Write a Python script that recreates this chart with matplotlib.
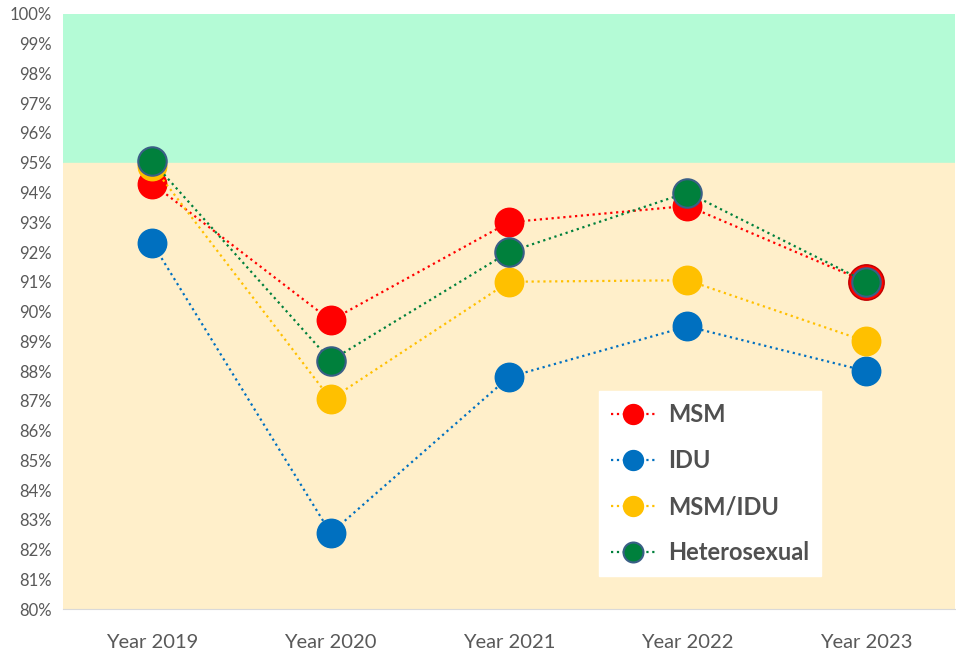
import matplotlib.pyplot as plt
from matplotlib.ticker import PercentFormatter

# Datos
years = ["Year 2019", "Year 2020", "Year 2021", "Year 2022", "Year 2023"]
msm = [94.3, 89.7, 93.0, 93.55, 91.0]
idu = [92.3, 82.55, 87.8, 89.5, 88.0]
msm_idu = [94.9, 87.05, 91.0, 91.05, 89.0]
hetero = [95.05, 88.35, 92.0, 94.0, 91.0]

target = 95
y_min, y_max = 80, 100

plt.rcParams['font.family'] = ['Lato', 'DejaVu Sans']

fig = plt.figure(figsize=(9.56, 6.51), dpi=100)
ax = fig.add_axes([0.066, 0.0645, 0.933, 0.914])

# Bandas de fondo
ax.axhspan(target, y_max, color='#B4FBD6', zorder=0)
ax.axhspan(y_min, target, color='#FFEFCA', zorder=0)

x = list(range(len(years)))
ms = 20.5

ax.plot(x, msm, ':', color='#FF0000', lw=1.6, marker='o', ms=ms,
        mfc='#FF0000', mec='#FF0000', label='MSM', zorder=3)
# Ultimo punto MSM resaltado (borde rojo alrededor del verde)
ax.plot(x[-1:], msm[-1:], 'o', ms=ms + 5, mfc='#FF0000', mec='#C00000',
        zorder=3)
ax.plot(x, idu, ':', color='#0070C0', lw=1.6, marker='o', ms=ms,
        mfc='#0070C0', mec='#0070C0', label='IDU', zorder=4)
ax.plot(x, msm_idu, ':', color='#FFC000', lw=1.6, marker='o', ms=ms,
        mfc='#FFC000', mec='#FFC000', label='MSM/IDU', zorder=5)
ax.plot(x, hetero, ':', color='#00803C', lw=1.6, marker='o', ms=ms,
        mfc='#00803C', mec='#3A5F86', mew=1.5, label='Heterosexual', zorder=6)

ax.set_xlim(-0.5, len(years) - 0.5)
ax.set_ylim(y_min, y_max)
ax.set_yticks(range(y_min, y_max + 1))
ax.yaxis.set_major_formatter(PercentFormatter(decimals=0))
ax.set_xticks(x)
ax.set_xticklabels(years)

ax.tick_params(axis='y', length=0, labelsize=12, labelcolor='#595959', pad=8)
ax.tick_params(axis='x', length=0, labelsize=14.5, labelcolor='#595959', pad=18)

for side in ['top', 'right', 'left']:
    ax.spines[side].set_visible(False)
ax.spines['bottom'].set_color('#D9D9D9')

leg = ax.legend(loc='lower left', bbox_to_anchor=(0.601, 0.055), frameon=True,
                fancybox=False, edgecolor='white', facecolor='white', framealpha=1,
                prop={'size': 17, 'weight': 'bold'}, markerscale=0.7,
                handlelength=1.9, labelspacing=0.98, borderpad=0.5,
                handletextpad=0.5, borderaxespad=0)
for t in leg.get_texts():
    t.set_color('#505050')
leg.set_zorder(10)

plt.savefig('out.png', dpi=100)
